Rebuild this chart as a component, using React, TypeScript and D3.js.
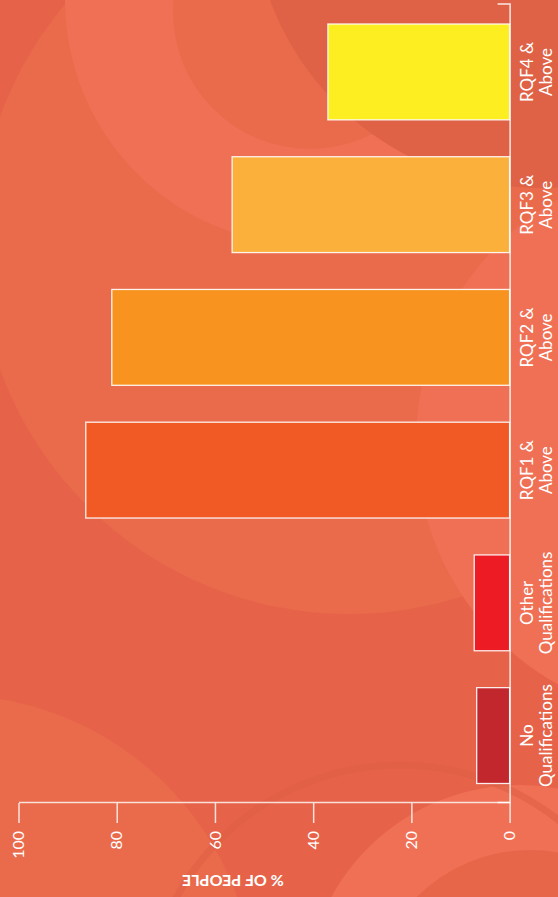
import React, { useEffect, useRef } from "react";
import * as d3 from "d3";

// values (% of people)
const categories = [
  "No Qualifications",
  "Other Qualifications",
  "RQF1 & Above",
  "RQF2 & Above",
  "RQF3 & Above",
  "RQF4 & Above",
];
const categoryLines = [
  ["No", "Qualifications"],
  ["Other", "Qualifications"],
  ["RQF1 &", "Above"],
  ["RQF2 &", "Above"],
  ["RQF3 &", "Above"],
  ["RQF4 &", "Above"],
];
const values = [6.7, 7.2, 86.3, 81.0, 56.5, 37.0];
const barColors = ["#c1272d", "#ed1c24", "#f15a24", "#f7931e", "#fbb03b", "#fcee21"];
const valueTicks = [0, 20, 40, 60, 80, 100];
const axisTitle = "% OF PEOPLE";

const width = 558;
const height = 897;
// the chart is laid out upright in a height x width frame, then turned a quarter turn
const frameW = height;
const frameH = width;
const margin = { top: 18.5, right: 4.5, bottom: 48.4, left: 94 };
const font = "Lato, 'Open Sans', sans-serif";

// decorative background circles (page coords)
const blobs = [
  { cx: 349, cy: 243, r: 371, fill: "#ea6b4c" },
  { cx: 310, cy: 0, r: 245, fill: "#ef7055" },
  { cx: 310, cy: 12, r: 137, fill: "#ea6b4c" },
  { cx: 540, cy: -100, r: 288, fill: "#df6246" },
  { cx: 694, cy: 442, r: 278, fill: "#ef7055" },
  { cx: -50, cy: 1000, r: 305, fill: "#ea6b4c" },
  { cx: 520, cy: 1000, r: 215, fill: "#ef7055" },
  { cx: 530, cy: 1010, r: 160, fill: "#e7664a" },
];

function Chart() {
  const ref = useRef<SVGGElement>(null);

  const x = d3
    .scaleBand()
    .domain(categories)
    .range([margin.left, frameW - margin.right])
    .paddingInner(0.278)
    .paddingOuter(0.147);

  const y = d3
    .scaleLinear()
    .domain([0, 100])
    .range([frameH - margin.bottom, margin.top]);

  useEffect(() => {
    const g = d3.select(ref.current);

    const yAxis = (g) =>
      g
        .attr("transform", `translate(${margin.left},0)`)
        .call(d3.axisLeft(y).tickValues(valueTicks).tickSize(20).tickSizeOuter(0).tickPadding(8))
        .attr("font-size", 16)
        .attr("font-family", font)
        .call((g) =>
          g.selectAll("line, path").attr("stroke", "#fff").attr("stroke-opacity", 0.8).attr("stroke-width", 1.5)
        )
        .call((g) => g.selectAll("text").attr("fill", "#fff"));

    const xAxis = (g) =>
      g
        .attr("transform", `translate(0,${y(0)})`)
        .call(d3.axisBottom(x).tickSize(0).tickSizeOuter(-12).tickFormat(() => ""))
        .call((g) => g.selectAll(".tick").remove())
        .call((g) =>
          g.select(".domain").attr("stroke", "#fff").attr("stroke-opacity", 0.85).attr("stroke-width", 1.5)
        );

    g.select(".y-axis").call(yAxis);
    g.select(".x-axis").call(xAxis);
  }, []);

  const yMid = 233;

  return (
    <svg
      width={width}
      height={height}
      style={{ position: "fixed", left: 0, top: 0, display: "block" }}
    >
      <rect width={width} height={height} fill="#e6634a" />
      {blobs.map((b, i) => (
        <circle key={i} cx={b.cx} cy={b.cy} r={b.r} fill={b.fill} />
      ))}
      <circle cx={400} cy={1020} r={255} fill="none" stroke="#dd5f45" strokeOpacity={0.6} strokeWidth={7} />

      <g ref={ref} transform={`translate(0,${height}) rotate(-90)`}>
        <g className="bars">
          {categories.map((c, i) => (
            <rect
              key={c}
              x={x(c)}
              y={y(values[i])}
              width={x.bandwidth()}
              height={y(0) - y(values[i])}
              fill={barColors[i]}
              stroke="#fff"
              strokeOpacity={0.9}
              strokeWidth={1.3}
            />
          ))}
        </g>
        <g className="y-axis" />
        <g className="x-axis" />
        <g className="labels" fill="#fff" fontFamily={font} fontSize={17} textAnchor="middle">
          {categories.map((c, i) => (
            <text key={c} x={x(c) + x.bandwidth() / 2} y={y(0)}>
              <tspan x={x(c) + x.bandwidth() / 2} dy={23}>
                {categoryLines[i][0]}
              </tspan>
              <tspan x={x(c) + x.bandwidth() / 2} dy={19.5}>
                {categoryLines[i][1]}
              </tspan>
            </text>
          ))}
        </g>
        <text
          transform={`translate(22,${yMid}) rotate(-90)`}
          fill="#fff"
          fontFamily={font}
          fontSize={16}
          fontWeight={700}
          textAnchor="middle"
        >
          {axisTitle}
        </text>
      </g>
    </svg>
  );
}

export default function App() {
  return <Chart />;
}
